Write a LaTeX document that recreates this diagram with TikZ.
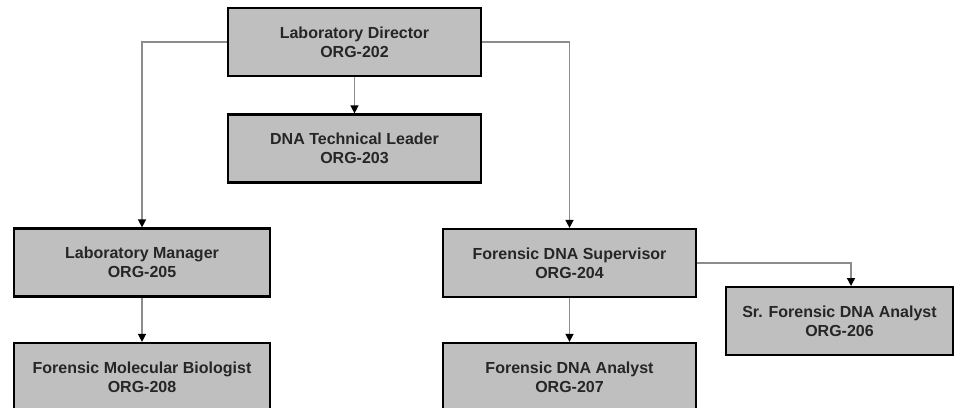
\documentclass[tikz,border=0pt]{standalone}
\usepackage{fontspec}
\setmainfont{Liberation Sans}
\usetikzlibrary{arrows.meta}
\begin{document}
\begin{tikzpicture}
[x=0.5pt,y=-0.5pt,
 orgbox/.style={rectangle,draw=black,fill=black!25,line width=1.1pt,inner sep=0pt,
   minimum width=126.5pt,minimum height=34pt,align=center,
   font=\fontsize{8}{9.7}\selectfont\bfseries,text=black!85},
 link/.style={draw=black!45,line width=0.7pt,-{Triangle[width=4pt,length=4pt,color=black]}}]
\useasboundingbox (0,0) rectangle (962,407);
\clip (0,0) rectangle (962,407);

\node (dir) at (354.5,42) [orgbox] {Laboratory Director\\ORG-202};
\node (tech) at (354.5,148.5) [orgbox] {DNA Technical Leader\\ORG-203};
\node (mgr) at (142,262.5) [orgbox,minimum width=128pt] {Laboratory Manager\\ORG-205};
\node (fmb) at (142,377) [orgbox,minimum width=128pt] {Forensic Molecular Biologist\\ORG-208};
\node (sup) at (569.5,263) [orgbox] {Forensic DNA Supervisor\\ORG-204};
\node (ana) at (569.5,377) [orgbox] {Forensic DNA Analyst\\ORG-207};
\node (sr) at (839.5,321) [orgbox,minimum width=113.5pt] {Sr. Forensic DNA Analyst\\ORG-206};
\coordinate (srin) at (851,286);

\foreach \from/\to in {dir/tech, mgr/fmb, sup/ana}
	\draw [link] (\from) -- (\to);
\foreach \from/\to in {dir/mgr, dir/sup, sup/srin}
	\draw [link] (\from) -| (\to);

\end{tikzpicture}
\end{document}
